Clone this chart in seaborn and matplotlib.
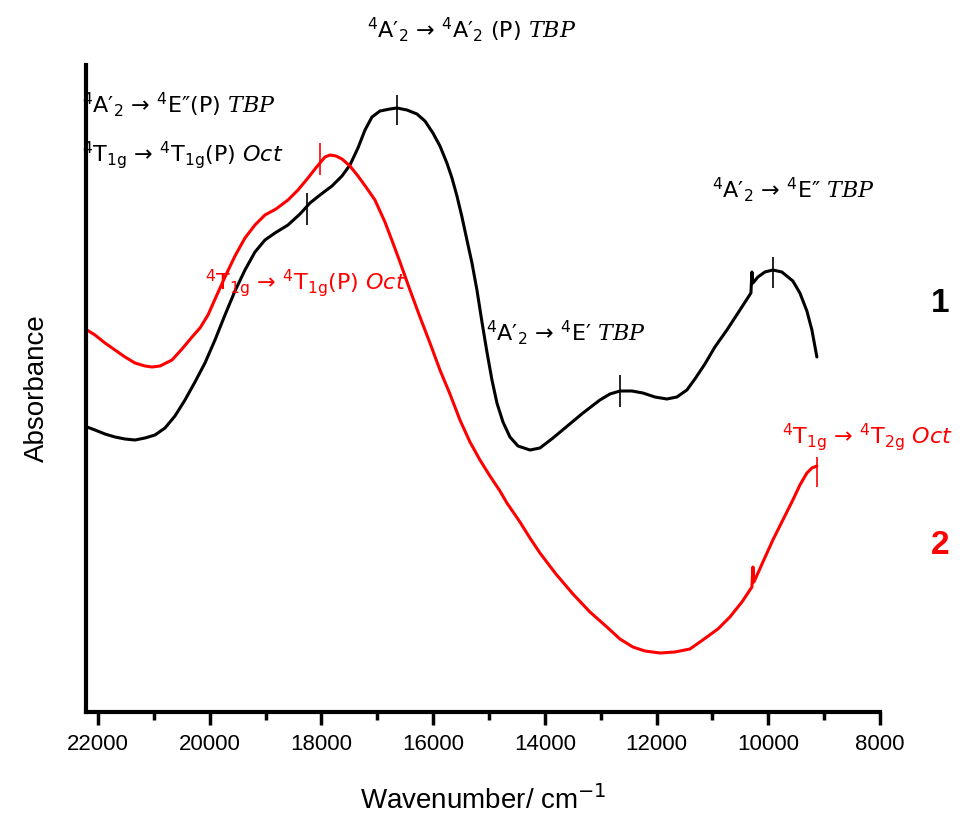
import numpy as np
import pandas as pd
import matplotlib
matplotlib.use("Agg")
import matplotlib.pyplot as plt
import seaborn as sns

# -------------------
# Data (absorbance in arbitrary units)
# -------------------
wn_1 = [22197, 22054, 21875, 21696, 21517, 21338, 21159, 20980, 20801, 20622,
        20443, 20264, 20085, 19906, 19727, 19548, 19369, 19190, 19011, 18832,
        18599, 18384, 18205, 18026, 17811, 17632, 17489, 17346, 17220, 17095,
        16952, 16773, 16648, 16469, 16290, 16147, 16004, 15878, 15754, 15663,
        15574, 15484, 15395, 15305, 15216, 15126, 15037, 14947, 14858, 14750,
        14625, 14482, 14267, 14088, 13855, 13640, 13318, 13014, 12835, 12656,
        12441, 12245, 12030, 11815, 11636, 11457, 11314, 11135, 10956, 10741,
        10508, 10311, 10293, 10275, 10186, 10061, 9918, 9757, 9560, 9434,
        9309, 9219, 9130]
abs_1 = [2.85, 2.82, 2.78, 2.75, 2.73, 2.72, 2.74, 2.77, 2.84, 2.96,
         3.12, 3.30, 3.49, 3.72, 3.97, 4.21, 4.42, 4.60, 4.72, 4.79,
         4.87, 4.98, 5.09, 5.17, 5.26, 5.36, 5.47, 5.64, 5.82, 5.95,
         6.01, 6.03, 6.04, 6.02, 5.98, 5.91, 5.79, 5.66, 5.49, 5.34,
         5.16, 4.95, 4.72, 4.49, 4.22, 3.90, 3.60, 3.32, 3.09, 2.90,
         2.75, 2.66, 2.62, 2.64, 2.74, 2.84, 2.99, 3.12, 3.18, 3.21,
         3.21, 3.19, 3.15, 3.13, 3.15, 3.22, 3.33, 3.48, 3.65, 3.82,
         4.02, 4.19, 4.40, 4.29, 4.35, 4.40, 4.42, 4.40, 4.31, 4.19,
         4.01, 3.82, 3.55]

wn_2 = [22197, 22054, 21875, 21696, 21517, 21338, 21159, 21033, 20890, 20675,
        20496, 20317, 20174, 20031, 19888, 19727, 19548, 19369, 19190, 19011,
        18814, 18599, 18420, 18241, 18116, 18026, 17937, 17847, 17740, 17632,
        17489, 17346, 17203, 17042, 16863, 16720, 16594, 16415, 16236, 16057,
        15878, 15699, 15520, 15341, 15162, 14983, 14804, 14679, 14446, 14267,
        14088, 13802, 13497, 13193, 12889, 12656, 12424, 12209, 11940, 11672,
        11403, 11224, 11099, 10902, 10687, 10472, 10293, 10275, 10257, 10096,
        9918, 9739, 9560, 9434, 9309, 9219, 9130]
abs_2 = [3.82, 3.77, 3.69, 3.62, 3.55, 3.49, 3.46, 3.45, 3.46, 3.52,
         3.63, 3.75, 3.84, 3.97, 4.15, 4.35, 4.56, 4.74, 4.87, 4.97,
         5.03, 5.12, 5.22, 5.34, 5.43, 5.49, 5.55, 5.57, 5.56, 5.53,
         5.46, 5.36, 5.25, 5.12, 4.90, 4.69, 4.50, 4.22, 3.95, 3.69,
         3.42, 3.18, 2.92, 2.70, 2.52, 2.36, 2.21, 2.09, 1.90, 1.74,
         1.59, 1.38, 1.18, 1.00, 0.85, 0.73, 0.65, 0.61, 0.59, 0.60,
         0.63, 0.70, 0.75, 0.83, 0.95, 1.10, 1.25, 1.45, 1.30, 1.50,
         1.72, 1.92, 2.12, 2.27, 2.39, 2.44, 2.46]

# peak marks: wavenumber, bottom and top of the short vertical bar
marks_1_wn = [18259, 16648, 12656, 9918]
marks_1_lo = [4.87, 5.87, 3.05, 4.24]
marks_1_hi = [5.19, 6.17, 3.37, 4.55]
marks_2_wn = [18026, 9130]
marks_2_lo = [5.37, 2.25]
marks_2_hi = [5.69, 2.55]

RED = "#ff0000"
W, H = 967, 831


def fx(px):
    return px / W


def fy(py):
    return 1 - py / H


df1 = pd.DataFrame({"wn": wn_1, "A": abs_1})
df2 = pd.DataFrame({"wn": wn_2, "A": abs_2})

sns.set_style("ticks")
plt.rcParams["font.family"] = ["Liberation Sans", "DejaVu Sans"]
plt.rcParams["text.color"] = "black"
plt.rcParams["axes.labelcolor"] = "black"
plt.rcParams["xtick.color"] = "black"
plt.rcParams["axes.edgecolor"] = "black"
plt.rcParams["mathtext.fontset"] = "custom"
plt.rcParams["mathtext.rm"] = "DejaVu Sans"
plt.rcParams["mathtext.it"] = "DejaVu Serif:italic"
plt.rcParams["mathtext.sf"] = "DejaVu Sans:italic"

fig = plt.figure(figsize=(W / 100, H / 100), dpi=100)
ax = fig.add_axes([fx(86), fy(712), fx(880) - fx(86), fy(65) - fy(712)])

sns.lineplot(data=df1, x="wn", y="A", sort=False, color="black", lw=2.2, ax=ax)
sns.lineplot(data=df2, x="wn", y="A", sort=False, color=RED, lw=2.2, ax=ax)

ax.vlines(marks_1_wn, marks_1_lo, marks_1_hi, color="black", lw=1.2)
ax.vlines(marks_2_wn, marks_2_lo, marks_2_hi, color=RED, lw=1.2)

ax.set_xlim(22215, 8000)
ax.set_ylim(0, 6.47)
ax.set_xticks(np.arange(22000, 7999, -2000))
ax.set_xticks(np.arange(21000, 8000, -2000), minor=True)
ax.set_yticks([])
ax.tick_params(axis="x", which="major", length=9, width=2.5, labelsize=16, pad=7)
ax.tick_params(axis="x", which="minor", length=6, width=2.5)
sns.despine(ax=ax)
for s in ["left", "bottom"]:
    ax.spines[s].set_linewidth(3)

ax.set_xlabel("Wavenumber/ cm$^{-1}$", fontsize=20, labelpad=22)
ax.set_ylabel("Absorbance", fontsize=20, labelpad=26)

# -------------------
# Band assignments
# -------------------
tk = dict(fontsize=16, family="DejaVu Sans", va="center")
A2 = "$^4$A′$_2$"
T1g = r"$^4$T$_{\mathrm{1g}}$"
TBP = r"$\mathit{TBP}$"
OCT = r"$\mathsf{Oct}$"

fig.text(fx(472), fy(30), f"{A2} → {A2} (P) {TBP}", ha="center", color="black", **tk)
fig.text(fx(82), fy(105), f"{A2} → $^4$E″(P) {TBP}", ha="left", color="black", **tk)
fig.text(fx(82), fy(155), f"{T1g} → {T1g}(P) {OCT}", ha="left", color="black", **tk)
fig.text(fx(205), fy(283), f"{T1g} → {T1g}(P) {OCT}", ha="left", color=RED, **tk)
fig.text(fx(486), fy(333), f"{A2} → $^4$E′ {TBP}", ha="left", color="black", **tk)
fig.text(fx(712), fy(190), f"{A2} → $^4$E″ {TBP}", ha="left", color="black", **tk)
fig.text(fx(782), fy(437), f"{T1g} → $^4$T$_{{\\mathrm{{2g}}}}$ {OCT}", ha="left",
         color=RED, **tk)

fig.text(fx(940), fy(303), "1", ha="center", va="center", fontsize=24,
         fontweight="bold", color="black")
fig.text(fx(940), fy(545), "2", ha="center", va="center", fontsize=24,
         fontweight="bold", color=RED)

fig.savefig("out.png", dpi=100)
